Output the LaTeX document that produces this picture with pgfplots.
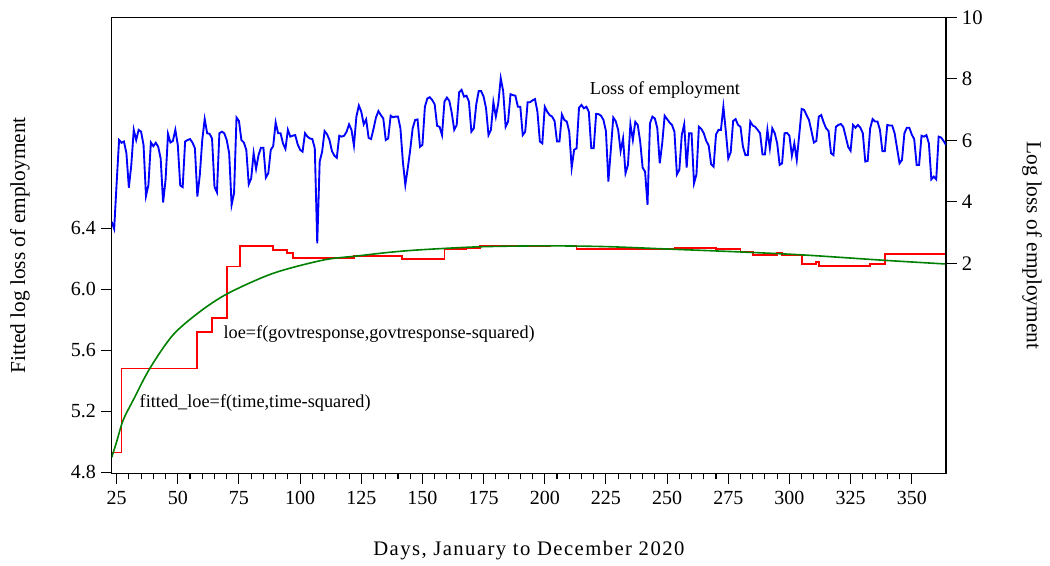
\documentclass[border=0pt]{standalone}
\usepackage{fontspec}
\setmainfont{Liberation Serif}
\usepackage{pgfplots}
\pgfplotsset{compat=1.18}
\usetikzlibrary{calc}

\begin{document}
\begin{tikzpicture}
% left axis: fitted series
\begin{axis}[name=L, scale only axis, width=625.7pt, height=342pt,
  xmin=23, xmax=364, ymin=4.793, ymax=7.784,
  xtick={25,50,...,350}, minor x tick num=4,
  ytick={4.8,5.2,5.6,6.0,6.4},
  yticklabel style={/pgf/number format/fixed, /pgf/number format/fixed zerofill, /pgf/number format/precision=1},
  xtick pos=left, ytick pos=left, tick align=outside,
  major tick length=7.9pt, minor tick length=4.5pt,
  axis line style={line width=1pt},
  every tick/.style={black, line width=0.8pt},
  /pgf/number format/assume math mode=true,
  xticklabel style={font=\fontsize{15}{17}\selectfont, yshift=-2pt},
  yticklabel style={font=\fontsize{15}{17}\selectfont, xshift=-0.5pt}]
\addplot[const plot, red, line width=1.3pt] coordinates {
(23,4.93) (27,5.48) (58,5.72) (64,5.81) (70,6.15) (75.5,6.284) (89,6.258)
(94.5,6.236) (97,6.203) (122,6.22) (141.5,6.197) (159,6.262) (168,6.273)
(173.5,6.282) (202,6.288) (213,6.262) (253,6.271) (270,6.262) (280,6.247)
(285,6.225) (295,6.236) (297,6.227) (305,6.164) (311,6.181) (312,6.153)
(333,6.168) (339,6.23) (364,6.23)};
\addplot[smooth, color={rgb,255:red,0;green,128;blue,0}, line width=1.2pt] coordinates {
(23,4.898) (25,5.00) (27.7,5.143) (31.8,5.274) (38.6,5.482) (48,5.70)
(59,5.853) (70.6,5.974) (89,6.105) (109.5,6.192) (123,6.218) (136.7,6.243)
(150,6.26) (173.5,6.279) (200,6.285) (225,6.28) (252,6.263) (280,6.245)
(306,6.225) (339,6.19) (364,6.166)};
\node[anchor=west, font=\fontsize{13.7}{15}\selectfont] at (axis cs:216.5,7.307) {Loss of employment};
\node[anchor=west, font=\fontsize{13.7}{15}\selectfont] at (axis cs:66.8,5.707) {loe=f(govtresponse,govtresponse-squared)};
\node[anchor=west, font=\fontsize{13.7}{15}\selectfont] at (axis cs:32.5,5.254) {fitted\_loe=f(time,time-squared)};
\end{axis}
% right axis: loss of employment
\begin{axis}[scale only axis, width=625.7pt, height=342pt,
  xmin=23, xmax=364, ymin=-4.83, ymax=10,
  axis x line=none, axis y line*=right, xtick=\empty,
  ytick={2,4,6,8,10}, ytick pos=right, tick align=outside,
  major tick length=7.9pt,
  axis line style={line width=1pt, -},
  every tick/.style={black, line width=0.8pt},
  /pgf/number format/assume math mode=true,
  yticklabel style={font=\fontsize{15.5}{17}\selectfont, xshift=0.5pt}]
\addplot[blue, line width=1.4pt] coordinates {
(23,3.35) (24,3.12) (25,4.6) (26,6.01) (27,5.92) (28,5.96) (29,5.58) (30,4.46)
(31,5.20) (32,6.34) (33,6.01) (34,6.34) (35,6.28) (36,5.85) (37,4.19) (38,4.55)
(39,5.93) (40,5.81) (41,5.92) (42,5.79) (43,5.41) (44,3.98) (45,4.71) (46,6.21)
(47,5.93) (48,5.98) (49,6.34) (50,5.85) (51,4.53) (52,4.48) (53,5.96) (54,6.01)
(55,6.04) (56,5.93) (57,5.74) (58,4.17) (59,4.87) (60,6.01) (61,6.69) (62,6.23)
(63,6.21) (64,6.06) (65,4.49) (66,4.31) (67,6.23) (68,6.28) (69,6.23) (70,6.01)
(71,5.58) (72,3.90) (73,4.28) (74,6.74) (75,6.63) (76,6.01) (77,5.93) (78,5.69)
(79,4.57) (80,4.76) (81,5.58) (82,5.07) (83,5.52) (84,5.76) (85,5.76) (86,4.79)
(87,4.93) (88,5.69) (89,5.81) (90,6.58) (91,6.23) (92,6.23) (93,5.90) (94,5.72)
(95,6.34) (96,6.12) (97,6.15) (98,6.17) (99,5.87) (100,5.69) (101,5.63) (102,6.23)
(103,6.12) (104,6.06) (105,6.04) (106,5.74) (107,2.65) (108,5.31) (109,5.63) (110,6.30)
(111,6.20) (112,6.01) (113,5.65) (114,5.50) (115,5.43) (116,6.15) (117,6.12) (118,6.15)
(119,6.28) (120,6.52) (121,6.34) (122,5.83) (123,6.77) (124,7.13) (125,6.93) (126,6.52)
(127,6.68) (128,6.08) (129,6.04) (130,6.37) (131,6.74) (132,6.95) (133,6.82) (134,6.71)
(135,6.01) (136,6.06) (137,6.80) (138,6.75) (139,6.77) (140,6.77) (141,6.39) (142,5.31)
(143,4.55) (144,5.09) (145,5.69) (146,6.39) (147,6.66) (148,6.68) (149,5.79) (150,5.85)
(151,7.09) (152,7.36) (153,7.40) (154,7.31) (155,7.17) (156,6.47) (157,6.44) (158,6.17)
(159,7.26) (160,7.39) (161,7.28) (162,6.88) (163,6.34) (164,6.50) (165,7.56) (166,7.64)
(167,7.42) (168,7.45) (169,7.26) (170,6.28) (171,6.39) (172,7.17) (173,7.60) (174,7.60)
(175,7.42) (176,7.04) (177,6.17) (178,6.34) (179,7.24) (180,6.77) (181,7.20) (182,8.02)
(183,7.60) (184,6.44) (185,6.61) (186,7.50) (187,7.47) (188,7.45) (189,7.09) (190,7.09)
(191,6.17) (192,6.28) (193,7.24) (194,7.24) (195,7.30) (196,7.34) (197,6.93) (198,5.96)
(199,5.90) (200,7.09) (201,6.93) (202,6.82) (203,6.77) (204,6.63) (205,5.96) (206,5.96)
(207,6.84) (208,6.66) (209,6.61) (210,6.28) (211,5.11) (212,5.69) (213,5.74) (214,7.06)
(215,7.15) (216,7.04) (217,7.09) (218,6.93) (219,5.74) (220,5.74) (221,6.86) (222,6.85)
(223,6.80) (224,6.66) (225,6.30) (226,4.66) (227,5.69) (228,6.74) (229,6.62) (230,6.34)
(231,5.65) (232,6.06) (233,4.93) (234,5.20) (235,6.52) (236,6.01) (237,6.60) (238,6.50)
(239,5.96) (240,5.11) (241,4.98) (242,3.90) (243,6.55) (244,6.77) (245,6.71) (246,6.39)
(247,5.25) (248,5.90) (249,6.80) (250,6.69) (251,6.58) (252,6.50) (253,6.28) (254,4.89)
(255,5.04) (256,6.17) (257,6.52) (258,5.11) (259,6.23) (260,6.23) (261,4.60) (262,4.89)
(263,6.44) (264,6.37) (265,6.23) (266,5.98) (267,5.83) (268,5.22) (269,5.14) (270,6.19)
(271,6.34) (272,6.34) (273,7.09) (274,6.30) (275,5.41) (276,5.61) (277,6.63) (278,6.69)
(279,6.50) (280,6.44) (281,5.79) (282,5.52) (283,5.52) (284,6.61) (285,6.48) (286,6.44)
(287,6.34) (288,6.23) (289,5.54) (290,5.54) (291,6.34) (292,5.74) (293,6.39) (294,6.23)
(295,5.90) (296,5.20) (297,5.25) (298,6.23) (299,6.24) (300,6.15) (301,5.50) (302,5.90)
(303,5.36) (304,6.17) (305,7.02) (306,6.99) (307,6.82) (308,6.66) (309,6.30) (310,5.93)
(311,5.98) (312,6.77) (313,6.82) (314,6.58) (315,6.39) (316,6.30) (317,5.58) (318,5.52)
(319,6.44) (320,6.50) (321,6.53) (322,6.44) (323,6.12) (324,5.79) (325,5.66) (326,6.50)
(327,6.41) (328,6.50) (329,6.41) (330,6.23) (331,5.31) (332,5.33) (333,6.39) (334,6.69)
(335,6.61) (336,6.61) (337,6.34) (338,5.65) (339,5.65) (340,6.50) (341,6.48) (342,6.48)
(343,6.23) (344,5.74) (345,5.25) (346,5.36) (347,6.23) (348,6.41) (349,6.41) (350,6.19)
(351,6.04) (352,5.20) (353,5.20) (354,6.15) (355,6.12) (356,6.17) (357,5.90) (358,4.73)
(359,4.82) (360,4.73) (361,6.12) (362,6.09) (363,5.98) (364,5.85)};
\end{axis}
% axis titles
\node[rotate=90, font=\fontsize{16}{18}\selectfont] at ($(L.west)+(-68.8pt,0)$) {Fitted log loss of employment};
\node[rotate=-90, font=\fontsize{16}{18}\selectfont] at ($(L.east)+(64.5pt,0)$) {Log loss of employment};
\node[font=\fontsize{15.5}{18}\selectfont\addfontfeature{LetterSpace=7}] at ($(L.south)+(0,-58.3pt)$) {Days, January to December 2020};
% page frame
\path ($(L.south west)+(-83.8pt,-69.5pt)$) rectangle ($(L.north east)+(78pt,13pt)$);
\end{tikzpicture}
\end{document}
